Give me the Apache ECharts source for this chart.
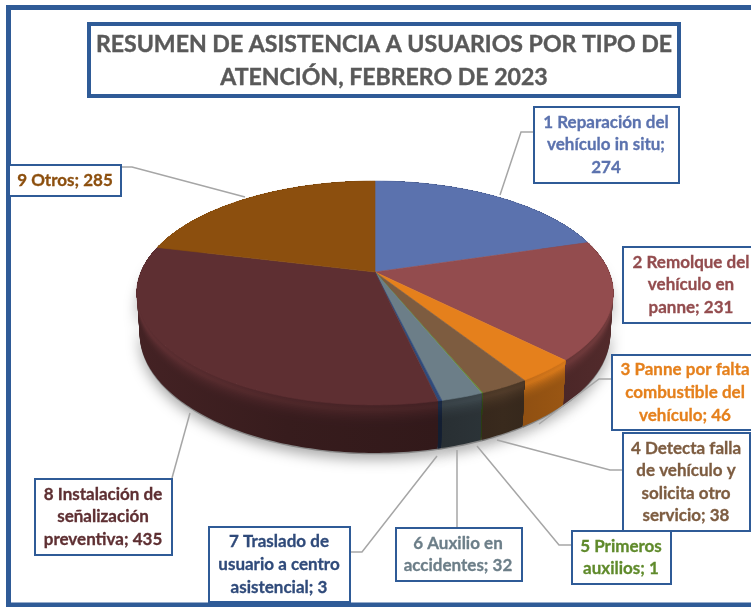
<!DOCTYPE html>
<html><head><meta charset="utf-8">
<style>html,body{margin:0;padding:0;background:#fff;overflow:hidden}#c{width:751px;height:607px}</style>
<script src="https://cdn.jsdelivr.net/npm/echarts@6/dist/echarts.min.js"></script>
</head><body><div id="c"></div>
<script>
const titleText = "RESUMEN DE ASISTENCIA A USUARIOS POR TIPO DE\nATENCIÓN, FEBRERO DE 2023";
const categories = ["1 Reparación del\nvehículo in situ","2 Remolque del\nvehículo en\npanne","3 Panne por falta\ncombustible del\nvehículo","4 Detecta falla\nde vehículo y\nsolicita otro\nservicio","5 Primeros\nauxilios","6 Auxilio en\naccidentes","7 Traslado de\nusuario a centro\nasistencial","8 Instalación de\nseñalización\npreventiva","9 Otros"];
const values = [274,231,46,38,1,32,3,435,285];
const separators = [";\n","; ","; ","; ","; ","; ","; ","; ","; "];
const colors = ["#5b72ae","#934c4e","#e5801c","#7d5c40","#5f8a2b","#6c7e88","#2f4a7a","#5e2f32","#8c4f0e"];
const sideShade = [.6,.55,.72,.5,.5,.46,.5,.66,.7];
// label box layout: x, y, w, h, text centre x
const boxes = [[534,107,145,76,606],[623,247,140,76,691],[612,355,150,75,685],[623,433,127,98,686],[572,531,99,53,621],[396,528,126,53,458],[209,527,141,75,279],[35,479,137,76,103],[9,165,112,31,65]];
const leaders = [[[533,132],[521,132],[500,195]],[],[[611,379],[599,379],[539,424]],[[622,470],[610,470],[497,440]],[[571,545],[559,545],[477,446]],[[457,527],[457,450]],[[350,552],[362,552],[437,456]],[[172,478],[190,413]],[[121,167],[132,167],[245,197]]];

const total = values.reduce((a,b)=>a+b,0);
const CX=375, CY=272, A=234, B=108, K=0.1875, DEPTH=39;
function cum(i){let s=0;for(let j=0;j<i;j++)s+=values[j];return s/total*Math.PI*2;}
function rim(t){const u=Math.sin(t),v=Math.cos(t),w=1+K*v;return [CX+A*u/w,CY-B*v/w,w];}
function arcPts(i,f){
  const a=cum(i),b=cum(i+1),n=Math.max(2,Math.ceil((b-a)/(Math.PI/180))),p=[];
  for(let k=0;k<=n;k++){const t=a+(b-a)*k/n,r=rim(t);p.push([CX+(r[0]-CX)*(1-0.012*f),r[1]+f*DEPTH/r[2]]);}
  return p;
}
function shade(hex,f){const n=parseInt(hex.slice(1),16);const c=[n>>16,(n>>8)&255,n&255].map(x=>Math.round(Math.min(255,x*f)));return `rgb(${c[0]},${c[1]},${c[2]})`;}
function band(i,f0,f1){return arcPts(i,f0).concat(arcPts(i,f1).reverse());}
// bevel brightness down the side wall: light ridge just under the rim, fading to the wall colour
function ridge(t){return t>=.5?1:t>=.12?1+.42*(.5-t)/.38*(.5-t)/.38:1.42-(.12-t)/.12*.1;}
const steps=[];for(let k=30;k>=1;k--)steps.push(k/30);

function renderShadow(params,api){
  const i=params.dataIndex;
  return {type:'polygon',shape:{points:band(i,0.3,1.03)},style:{fill:'#888',shadowBlur:14,shadowColor:'rgba(0,0,0,0.35)',shadowOffsetY:5}};
}
function renderSide(params,api){
  const i=params.dataIndex,children=[];
  const s=sideShade[i],c=colors[i],pts=arcPts(i,0);
  const xs=pts.map(p=>p[0]),x0=Math.min(...xs),x1=Math.max(...xs);
  steps.forEach(t=>{
    const st=[];
    [x0,(x0+x1)/2,x1].forEach((x,k)=>{
      const d=Math.abs(x-390)/225;
      st.push({offset:k/2,color:shade(c,s*ridge(t)*(0.72+0.38*Math.min(1,d))*(x>520?0.92:1))});
    });
    children.push({type:'polygon',shape:{points:band(i,0,t)},style:{fill:{type:'linear',x:x0,y:0,x2:x1===x0?x0+1:x1,y2:0,global:true,colorStops:st}}});
  });
  return {type:'group',children};
}
function renderTop(params,api){
  const i=params.dataIndex;
  return {type:'polygon',shape:{points:[[CX,CY]].concat(arcPts(i,0))},style:{fill:colors[i],stroke:colors[i],lineWidth:.6}};
}
function renderLabel(params,api){
  const i=params.dataIndex,b=boxes[i],children=[];
  const v=api.value(0);
  if(leaders[i].length)children.push({type:'polyline',shape:{points:leaders[i]},style:{fill:null,stroke:'#a6a6a6',lineWidth:1.5}});
  children.push({type:'rect',shape:{x:b[0],y:b[1],width:b[2],height:b[3]},style:{fill:'#fff',stroke:'#2f5b97',lineWidth:2}});
  children.push({type:'text',style:{x:b[4],y:b[1]+b[3]/2,text:categories[i]+separators[i]+v,fill:colors[i],stroke:colors[i],lineWidth:.3,font:'bold 17px Lato',align:'center',verticalAlign:'middle',lineHeight:22.6}});
  return {type:'group',children};
}
const data=values.map(v=>[v]);
function layer(fn,z){return {type:'custom',coordinateSystem:'none',renderItem:fn,data:data,z:z,silent:true,animation:false,clip:false};}
const chart=echarts.init(document.getElementById('c'),null,{renderer:'canvas'});
chart.setOption({
  animation:false,backgroundColor:'#fff',
  graphic:[{type:'rect',z:0,shape:{x:8.5,y:7.5,width:760,height:597.5},style:{fill:'#fff',stroke:'#2f5b97',lineWidth:5}},
  {type:'rect',z:5,shape:{x:89,y:24,width:590,height:72},style:{fill:'#fff',stroke:'#2f5b97',lineWidth:4}},
  {type:'text',z:6,style:{x:384,y:61.5,text:titleText,fill:'#595959',stroke:'#595959',lineWidth:.4,font:'bold 23.1px Lato',align:'center',verticalAlign:'middle',lineHeight:33}}],
  series:[layer(renderShadow,1),layer(renderSide,2),layer(renderTop,3),layer(renderLabel,4)]
});
</script></body></html>
